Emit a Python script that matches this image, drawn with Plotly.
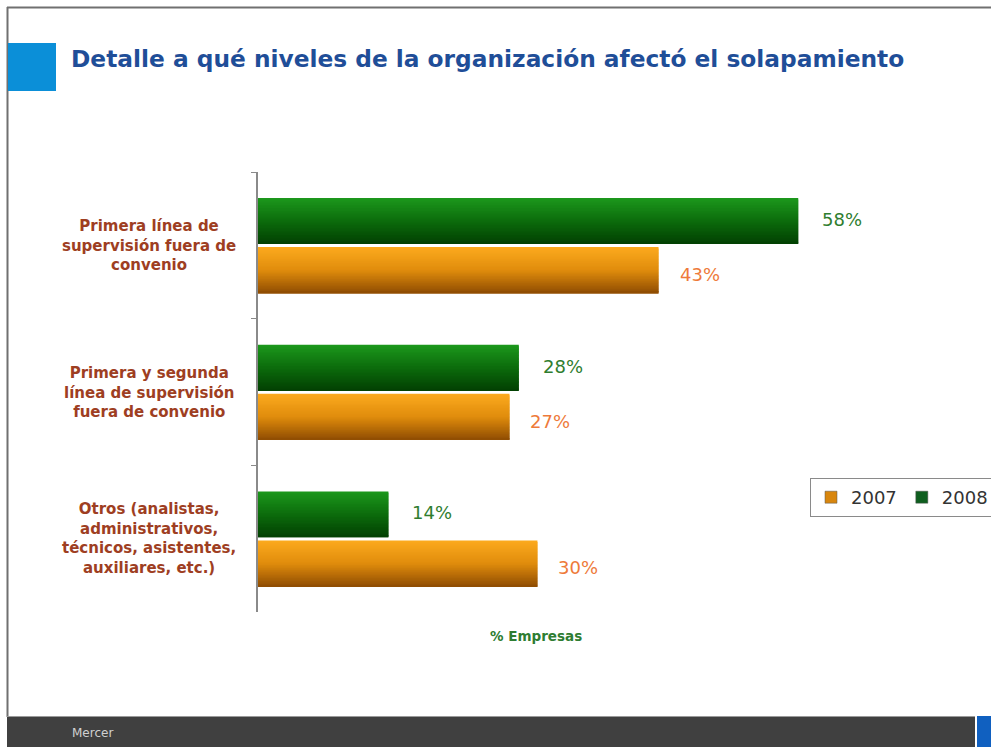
import plotly.graph_objects as go

# --- data -----------------------------------------------------------------
categories = [
    "Primera línea de<br>supervisión fuera de<br>convenio",
    "Primera y segunda<br>línea de supervisión<br>fuera de convenio",
    "Otros (analistas,<br>administrativos,<br>técnicos, asistentes,<br>auxiliares, etc.)",
]
values_2007 = [43, 27, 30]
values_2008 = [58, 28, 14]
series_names = ["2007", "2008"]

# --- page geometry (pixels) ------------------------------------------------
W, H = 991, 747
PL, PR, PT, PB = 258, 910, 172, 612          # plot area edges


def px_x(x):
    return (x - PL) / (PR - PL)


def px_y(y):
    return (PB - y) / (PB - PT)


def lerp_hex(c1, c2, t):
    a = [int(c1[i:i + 2], 16) for i in (1, 3, 5)]
    b = [int(c2[i:i + 2], 16) for i in (1, 3, 5)]
    return "#" + "".join(f"{round(a[k] + (b[k] - a[k]) * t):02x}" for k in range(3))


def gradient(stops, t):
    # stops: list of colours evenly spread over 0..1
    n = len(stops) - 1
    i = min(int(t * n), n - 1)
    return lerp_hex(stops[i], stops[i + 1], t * n - i)


fig = go.Figure()

# Bars drawn as thin horizontal bands to give a top-to-bottom shading.
N_SLICES = 32
bar_specs = [
    # name, values, band start/end (category units, reversed axis), colour stops
    ("2008", values_2008, -0.322, -0.010, ["#1c981c", "#0c6c0c", "#024002"]),
    ("2007", values_2007, 0.012, 0.328, ["#fcaa1e", "#e08c0c", "#8e4c02"]),
]
for name, vals, lo, hi, stops in bar_specs:
    dh = (hi - lo) / N_SLICES
    for i in range(N_SLICES):
        t = (i + 0.5) / N_SLICES
        off = lo + i * dh
        fig.add_trace(go.Bar(
            x=vals, y=categories, orientation="h",
            offset=off, width=min(dh * 2.0, hi - off),
            marker=dict(color=gradient(stops, t), line=dict(width=0)),
            showlegend=False, hoverinfo="skip",
        ))

# Legend entries
legend_colors = {"2007": "#d8860e", "2008": "#0e5e1e"}
for name in series_names:
    fig.add_trace(go.Bar(
        x=[None], y=[categories[0]], orientation="h", name=name,
        marker=dict(color=legend_colors[name], line=dict(color="#555555", width=0.5)),
        showlegend=True,
    ))

annotations = []

# Value labels
for vals, color, yshift, xshift in [
    (values_2008, "#2f7d2f", 26, 22),
    (values_2007, "#ee7a3a", -29, 19),
]:
    for cat, v in zip(categories, vals):
        annotations.append(dict(
            x=v, y=cat, xref="x", yref="y", text=f"{v}%",
            showarrow=False, xanchor="left", yanchor="middle",
            xshift=xshift, yshift=yshift,
            font=dict(family="DejaVu Sans", size=18, color=color),
        ))

# Category labels, centred blocks left of the axis
for cat in categories:
    annotations.append(dict(
        x=px_x(149), y=cat, xref="paper", yref="y", text=cat,
        showarrow=False, xanchor="center", yanchor="middle", align="center",
        font=dict(family="DejaVu Sans", size=15, color="#9e3e22", weight="bold"),
    ))

# Axis caption
annotations.append(dict(
    x=px_x(536), y=px_y(636), xref="paper", yref="paper", text="% Empresas",
    showarrow=False, xanchor="center", yanchor="middle",
    font=dict(family="DejaVu Sans", size=13.5, color="#2e7d32", weight="bold"),
))

# Title
annotations.append(dict(
    x=px_x(69), y=px_y(58), xref="paper", yref="paper",
    text="Detalle a qué niveles de la organización afectó el solapamiento",
    showarrow=False, xanchor="left", yanchor="middle",
    font=dict(family="DejaVu Sans", size=23.3, color="#1f4e98", weight="bold"),
))

# Footer text
annotations.append(dict(
    x=px_x(70), y=px_y(733), xref="paper", yref="paper", text="Mercer",
    showarrow=False, xanchor="left", yanchor="middle",
    font=dict(family="DejaVu Sans", size=12, color="#d0d0d0"),
))

shapes = [
    # slide frame
    dict(type="line", xref="paper", yref="paper", x0=px_x(7), x1=px_x(W),
         y0=px_y(7.5), y1=px_y(7.5), line=dict(color="#707070", width=2)),
    dict(type="line", xref="paper", yref="paper", x0=px_x(7.5), x1=px_x(7.5),
         y0=px_y(7), y1=px_y(717), line=dict(color="#707070", width=2)),
    # title marker
    dict(type="rect", xref="paper", yref="paper", x0=px_x(8), x1=px_x(56),
         y0=px_y(43), y1=px_y(91), fillcolor="#0b8fd8", line=dict(width=0)),
    # footer band
    dict(type="rect", xref="paper", yref="paper", x0=px_x(7), x1=px_x(975),
         y0=px_y(716), y1=px_y(H), fillcolor="#404040", line=dict(width=0)),
    dict(type="line", xref="paper", yref="paper", x0=px_x(7), x1=px_x(975),
         y0=px_y(716.5), y1=px_y(716.5), line=dict(color="#9a9a9a", width=1)),
    dict(type="rect", xref="paper", yref="paper", x0=px_x(977), x1=px_x(W),
         y0=px_y(716), y1=px_y(H), fillcolor="#1060c0", line=dict(width=0)),
]

fig.update_layout(
    width=W, height=H,
    margin=dict(l=PL, r=W - PR, t=PT, b=H - PB, autoexpand=False),
    paper_bgcolor="white", plot_bgcolor="white",
    barmode="overlay",
    showlegend=True,
    legend=dict(
        orientation="h", x=px_x(810), y=px_y(478), xanchor="left", yanchor="top",
        bgcolor="white", bordercolor="#8a8a8a", borderwidth=1,
        font=dict(family="DejaVu Sans", size=18, color="#333333"),
        traceorder="normal", itemwidth=30,
    ),
    xaxis=dict(range=[0, 70], visible=False, fixedrange=True),
    yaxis=dict(
        type="category", categoryorder="array", categoryarray=categories,
        range=[2.5, -0.5], showticklabels=False,
        showline=True, linecolor="#8a8a8a", linewidth=2,
        ticks="outside", tickson="boundaries", ticklen=5,
        tickcolor="#8a8a8a", tickwidth=1, showgrid=False, zeroline=False,
    ),
    annotations=annotations,
    shapes=shapes,
)

fig.write_html("out.html")
